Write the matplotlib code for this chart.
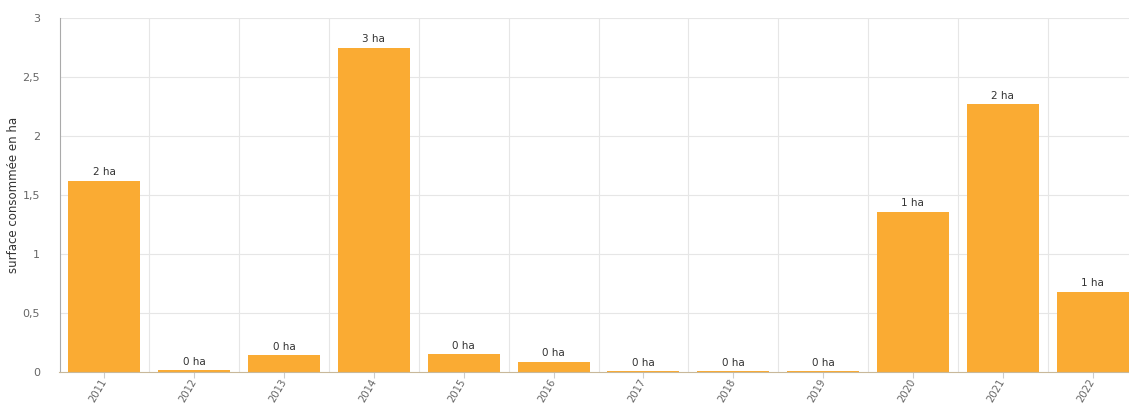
import numpy as np
import matplotlib.pyplot as plt

# Surface consumed per year (ha)
years = ['2011', '2012', '2013', '2014', '2015', '2016',
         '2017', '2018', '2019', '2020', '2021', '2022']
surface = [1.62, 0.015, 0.14, 2.75, 0.15, 0.085,
           0.005, 0.005, 0.005, 1.36, 2.27, 0.68]
y_ticks = [0, 0.5, 1, 1.5, 2, 2.5, 3]

bar_color = '#FAAB33'
grid_color = '#E6E6E6'

fig = plt.figure(figsize=(11.29, 4.07), dpi=100)
W, H = 1129, 407
# plot area runs past the right border, the last band is cut off
ax = fig.add_axes([59.5 / W, 35 / H, 1078 / W, 354 / H])

x = np.arange(len(years))
ax.bar(x, surface, width=0.8, color=bar_color, zorder=2)

# value labels above the bars
for xi, v in zip(x, surface):
    ax.text(xi, v + 0.03, f'{round(v):.0f} ha', ha='center', va='bottom',
            fontsize=7.5, color='#333333', zorder=3)

ax.set_xlim(-0.5, len(years) - 0.5)
ax.set_ylim(0, 3)

ax.set_yticks(y_ticks)
ax.set_yticklabels([f'{t:g}'.replace('.', ',') for t in y_ticks],
                   fontsize=8, color='#666666')
ax.tick_params(axis='y', length=0, pad=14)

ax.set_xticks(x)
ax.set_xticklabels(years, rotation=60, ha='right', va='center',
                   rotation_mode='anchor', fontsize=7.2, color='#666666')
ax.tick_params(axis='x', length=4, color='#CCCCCC', pad=1.5)

# grid: horizontal at y ticks, vertical at category boundaries
for t in y_ticks[1:]:
    ax.axhline(t, color=grid_color, linewidth=0.8, zorder=0)
for b in np.arange(0.5, len(years) - 0.5, 1):
    ax.axvline(b, color=grid_color, linewidth=0.8, zorder=0)

for side in ['top', 'right']:
    ax.spines[side].set_visible(False)
ax.spines['left'].set_color('#AAAAAA')
ax.spines['left'].set_linewidth(0.8)
ax.spines['bottom'].set_color('#C8B89A')
ax.spines['bottom'].set_linewidth(0.8)
ax.spines['bottom'].set_zorder(3)

fig.text(14 / W, 1 - 195 / H, 'surface consommée en ha', rotation=90,
         ha='center', va='center', fontsize=8.5, color='#333333')

fig.savefig('out.png', dpi=100)
